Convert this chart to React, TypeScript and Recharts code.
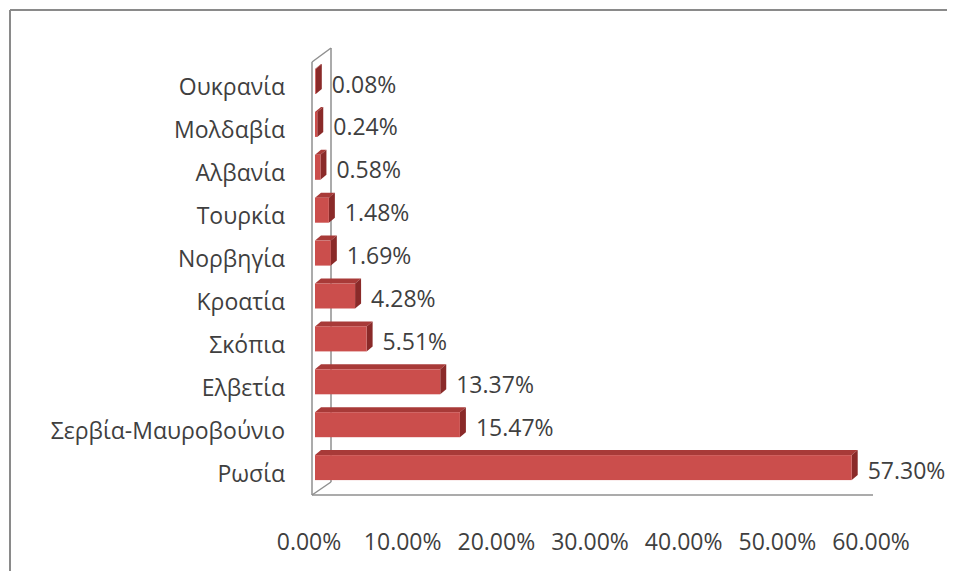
import { Bar, BarChart, LabelList, XAxis, YAxis } from "recharts";

const countries = [
  "Ουκρανία",
  "Μολδαβία",
  "Αλβανία",
  "Τουρκία",
  "Νορβηγία",
  "Κροατία",
  "Σκόπια",
  "Ελβετία",
  "Σερβία-Μαυροβούνιο",
  "Ρωσία",
];
const shares = [0.08, 0.24, 0.58, 1.48, 1.69, 4.28, 5.51, 13.37, 15.47, 57.3];
const xTicks = [0, 10, 20, 30, 40, 50, 60];

const data = countries.map((name, i) => ({ name, value: shares[i] }));

// layout (chart coords, page = chart + 8)
const W = 947;
const H = 563;
const PLOT_LEFT = 307;
const PLOT_TOP = 52;
const PLOT_W = 562;
const PLOT_H = 429;
const DEPTH_X = 6;
const DEPTH_Y = 5;
const FONT = "'Open Sans', sans-serif";
const FONT_SIZE = 23;
const TEXT = "#3f3f3f";
const WALL = "#8f8f8f";

const Bar3D = (props: any) => {
  const { x, y, width, height } = props;
  const w = Math.max(width, 0.8);
  return (
    <g>
      <polygon
        points={`${x},${y} ${x + DEPTH_X},${y - DEPTH_Y} ${x + w + DEPTH_X},${y - DEPTH_Y} ${x + w},${y}`}
        fill="#a83a38"
      />
      <polygon
        points={`${x + w},${y} ${x + w + DEPTH_X},${y - DEPTH_Y} ${x + w + DEPTH_X},${y + height - DEPTH_Y} ${x + w},${y + height}`}
        fill="#8a2a29"
      />
      <rect x={x} y={y} width={w} height={height} fill="#cb4e4c" />
    </g>
  );
};

const ValueLabel = (props: any) => {
  const { x, y, width, height, value } = props;
  return (
    <text
      x={x + Math.max(width, 0.8) + DEPTH_X + 10}
      y={y + height / 2 + 2}
      dominantBaseline="central"
      fontFamily={FONT}
      fontSize={FONT_SIZE}
      fill={TEXT}
    >
      {value.toFixed(2)}%
    </text>
  );
};

const CategoryTick = (props: any) => {
  const { x, y, payload } = props;
  return (
    <text
      x={x - 22}
      y={y + 5}
      textAnchor="end"
      dominantBaseline="central"
      fontFamily={FONT}
      fontSize={FONT_SIZE}
      fill={TEXT}
    >
      {payload.value}
    </text>
  );
};

const PercentTick = (props: any) => {
  const { x, y, payload } = props;
  return (
    <text
      x={x - 6}
      y={y + 44}
      textAnchor="middle"
      dominantBaseline="central"
      fontFamily={FONT}
      fontSize={FONT_SIZE}
      fill={TEXT}
    >
      {payload.value.toFixed(2)}%
    </text>
  );
};

// frame, back wall and floor of the 3D plot area
const Backdrop = () => {
  const fx = PLOT_LEFT - 3;
  const bx = fx + 19;
  const floorY = PLOT_TOP + PLOT_H + 6;
  const topY = PLOT_TOP + 2;
  return (
    <svg
      width={W + 8}
      height={H + 16}
      style={{ position: "absolute", left: -8, top: -8 }}
    >
      <line x1={10} y1={10} x2={W + 8} y2={10} stroke="#8a8a8a" strokeWidth={2} />
      <line x1={10} y1={10} x2={10} y2={H + 16} stroke="#8a8a8a" strokeWidth={2} />
      <g transform="translate(8,8)" stroke={WALL} strokeWidth={1.5} fill="none">
        <line x1={fx} y1={topY} x2={fx} y2={floorY} />
        <line x1={bx} y1={topY - 14} x2={bx} y2={floorY - 13} />
        <line x1={fx} y1={topY} x2={bx} y2={topY - 14} />
        <line x1={fx} y1={floorY} x2={bx} y2={floorY - 13} />
        <line x1={fx} y1={floorY} x2={PLOT_LEFT + PLOT_W - 4} y2={floorY} />
      </g>
    </svg>
  );
};

export default function App() {
  return (
    <div style={{ position: "relative", width: W, height: H, background: "#fff" }}>
      <style>{"html, body { overflow: hidden; }"}</style>
      <Backdrop />
      <div style={{ position: "absolute", left: 0, top: 0 }}>
        <BarChart
          width={W}
          height={H}
          data={data}
          layout="vertical"
          margin={{ top: PLOT_TOP, left: 0, right: W - PLOT_LEFT - PLOT_W, bottom: H - PLOT_TOP - PLOT_H - 60 }}
          barCategoryGap={0}
        >
          <XAxis
            type="number"
            domain={[0, 60]}
            ticks={xTicks}
            axisLine={false}
            tickLine={false}
            height={60}
            tick={<PercentTick />}
            interval={0}
          />
          <YAxis
            type="category"
            dataKey="name"
            width={PLOT_LEFT}
            axisLine={false}
            tickLine={false}
            tick={<CategoryTick />}
            interval={0}
          />
          <Bar
            dataKey="value"
            barSize={25}
            shape={<Bar3D />}
            isAnimationActive={false}
          >
            <LabelList dataKey="value" content={<ValueLabel />} />
          </Bar>
        </BarChart>
      </div>
    </div>
  );
}
